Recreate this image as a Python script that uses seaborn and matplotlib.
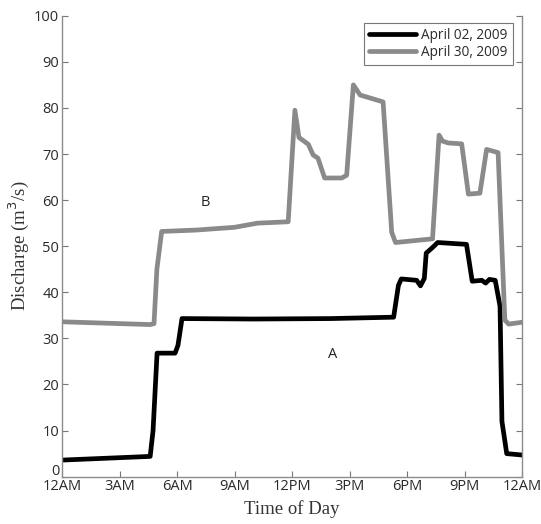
import numpy as np
import pandas as pd
import matplotlib
matplotlib.use("Agg")
import matplotlib.pyplot as plt
import matplotlib.transforms as mtrans
import seaborn as sns

# April 02, 2009 (hours since midnight, discharge m3/s)
hrs_a = [0.0, 4.6, 4.75, 4.96, 5.9, 6.05, 6.26, 10.0, 14.0, 17.3, 17.55, 17.7,
         18.5, 18.7, 18.9, 19.0, 19.35, 19.6, 21.1, 21.4, 21.9, 22.1, 22.3,
         22.6, 22.85, 22.95, 23.2, 24.0]
q_a = [3.6, 4.4, 10.0, 26.8, 26.8, 28.5, 34.3, 34.2, 34.3, 34.6, 41.5, 42.9,
       42.6, 41.4, 43.0, 48.5, 49.8, 50.8, 50.4, 42.4, 42.6, 42.0, 42.8,
       42.6, 37.0, 12.0, 5.0, 4.7]

# April 30, 2009
hrs_b = [0.0, 4.6, 4.8, 4.95, 5.2, 7.0, 9.0, 10.2, 11.8, 12.15, 12.36, 12.85,
         13.1, 13.35, 13.7, 14.6, 14.85, 15.2, 15.55, 16.75, 17.2, 17.4,
         19.33, 19.67, 19.85, 20.15, 20.85, 21.2, 21.8, 22.15, 22.75, 23.1,
         23.3, 24.0]
q_b = [33.6, 33.0, 33.2, 45.0, 53.2, 53.5, 54.1, 55.0, 55.3, 79.5, 73.6, 72.1,
       69.8, 69.1, 64.8, 64.8, 65.4, 85.0, 82.8, 81.3, 53.0, 50.8,
       51.6, 74.1, 72.8, 72.4, 72.2, 61.3, 61.5, 71.0, 70.3, 34.0,
       33.1, 33.5]

tick_pos = [0, 3, 6, 9, 12, 15, 18, 21, 24]
tick_lbl = ["12AM", "3AM", "6AM", "9AM", "12PM", "3PM", "6PM", "9PM", "12AM"]

df = pd.concat([
    pd.DataFrame({"hour": hrs_a, "q": q_a, "day": "April 02, 2009"}),
    pd.DataFrame({"hour": hrs_b, "q": q_b, "day": "April 30, 2009"}),
])

sns.set_style("white")
plt.rcParams["font.family"] = ["Open Sans", "DejaVu Sans"]

fig = plt.figure(figsize=(5.41, 5.24), dpi=100)
ax = fig.add_axes([0.1146, 0.0903, 0.965 - 0.1146, 0.970 - 0.0903])

sns.lineplot(data=df, x="hour", y="q", hue="day", sort=False,
             palette={"April 02, 2009": "black", "April 30, 2009": "#8a8a8a"},
             linewidth=3.4, ax=ax)
for ln in ax.get_lines():
    ln.set_solid_joinstyle("round")
    ln.set_solid_capstyle("round")

ax.set_xlim(0, 24)
ax.set_ylim(0, 100)
ax.set_xticks(tick_pos)
ax.set_xticklabels(tick_lbl)
ax.set_yticks(range(0, 101, 10))
ax.tick_params(direction="in", length=4, width=0.8, color="#777777",
               labelsize=10.5, labelcolor="#2a2a2a", pad=2,
               right=True, left=True, bottom=True)
for s in ["left", "bottom", "right"]:
    ax.spines[s].set_color("#8c8c8c")
    ax.spines[s].set_linewidth(1.0)
ax.spines["top"].set_visible(False)

# lift the "0" label so it sits above "12AM" as in the original
zero_lbl = ax.get_yticklabels()[0]
zero_lbl.set_transform(zero_lbl.get_transform() +
                       mtrans.ScaledTranslation(0, 5 / 72, fig.dpi_scale_trans))

ax.set_xlabel("Time of Day", family="Liberation Serif", fontsize=13.5,
              color="#333333", labelpad=4)
ax.set_ylabel("Discharge (m$^3$/s)", family="Liberation Serif", fontsize=13.5,
              color="#333333", labelpad=2)

ax.text(7.46, 59.4, "B", ha="center", va="center", fontsize=10.5, color="#222222")
ax.text(14.14, 26.4, "A", ha="center", va="center", fontsize=10.5, color="#222222")

leg = ax.legend(loc="upper right", bbox_to_anchor=(0.995, 1.0), fontsize=9.8,
                frameon=True, fancybox=False, handlelength=3.4,
                borderpad=0.4, labelspacing=0.15, handletextpad=0.4)
leg.get_frame().set_edgecolor("#555555")
leg.get_frame().set_linewidth(0.8)
for t in leg.get_texts():
    t.set_color("#2a2a2a")

fig.savefig("out.png", dpi=100)
